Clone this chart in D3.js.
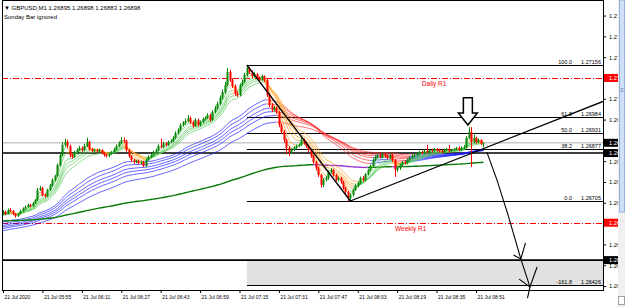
<!DOCTYPE html>
<html>
<head>
<meta charset="utf-8">
<script src="https://cdn.jsdelivr.net/npm/d3@7"></script>
<style>
  body { margin: 0; background: #fff; }
  svg text { font-family: "Liberation Sans", Arial, sans-serif; }
</style>
</head>
<body>
<svg id="svg1" width="625" height="307"></svg>
<script>
// GBPUSD M1, 21 Jul 2020. prices kept in points above 1.26000 (1 pt = 0.00001)
var startTime = new Date(2020, 6, 21, 5, 39);   // first bar on screen
var firstOpenPts = 662;

var closePts = [
  669,662,675,672,662,655,662,672,679,685,692,688,
  698,708,742,748,725,722,742,758,775,788,824,857,
  891,901,887,857,851,867,874,881,874,887,901,877,
  871,874,871,874,864,857,854,861,867,877,887,897,
  907,904,874,854,841,834,838,831,834,821,841,851,
  857,867,874,887,884,897,891,901,904,914,930,940,
  957,964,970,980,967,954,974,957,967,977,980,990,
  974,1000,1013,1027,1047,1066,1090,1133,1106,1086,1060,1056,
  1090,1100,1123,1146,1133,1119,1126,1113,1106,1119,1106,1056,
  1023,1007,1013,1000,957,934,907,881,867,874,881,887,
  891,907,897,887,874,854,834,814,791,758,775,781,
  801,808,791,775,781,768,748,735,715,725,742,755,
  765,781,775,794,808,821,841,851,857,851,861,854,
  848,857,841,808,814,824,834,831,841,848,854,857,
  861,867,864,871,867,874,871,877,874,871,867,874,
  877,871,874,877,881,874,881,884,914,934,901,914,
  901,907,895,898
];
var highPts = [
  675,673,680,682,675,665,666,676,684,690,697,696,
  702,712,748,755,752,730,746,762,780,792,830,862,
  900,912,908,892,862,872,880,888,886,895,915,905,
  880,878,878,879,877,867,860,865,871,882,892,903,
  917,915,908,878,857,845,842,842,838,838,845,856,
  861,872,879,893,912,902,900,906,910,920,936,946,
  962,970,978,990,985,972,980,978,972,982,986,996,
  995,1006,1020,1034,1055,1075,1100,1146,1140,1112,1092,1068,
  1095,1108,1130,1156,1150,1138,1132,1130,1118,1124,1122,1110,
  1062,1030,1020,1018,1004,962,940,912,886,880,886,892,
  896,914,912,902,892,878,858,838,818,795,780,788,
  806,814,812,795,786,785,772,752,738,730,746,760,
  770,786,788,798,812,826,846,856,862,862,866,865,
  858,862,861,845,820,828,838,840,846,853,860,863,
  866,872,872,876,891,878,878,881,881,878,876,878,
  881,891,878,881,885,886,886,890,920,950,950,925,
  918,912,910,898
];
var lowPts = [
  658,658,660,668,658,650,652,660,669,676,682,684,
  685,695,705,738,720,716,718,738,752,770,784,820,
  852,885,880,850,845,848,862,870,868,870,884,872,
  866,867,866,867,860,852,849,850,858,864,874,884,
  893,898,868,848,836,828,830,826,826,818,818,838,
  847,853,864,870,880,880,886,888,897,900,910,926,
  936,952,958,966,960,948,950,952,952,963,972,976,
  968,970,996,1008,1022,1042,1060,1085,1100,1080,1054,1050,
  1052,1085,1096,1118,1126,1113,1114,1108,1100,1102,1100,1050,
  1016,1000,1002,994,950,928,898,860,855,862,870,877,
  883,887,892,882,868,848,828,806,785,750,752,770,
  776,796,786,770,770,762,742,728,705,708,720,738,
  750,760,770,770,790,804,817,836,846,846,847,849,
  843,844,835,785,802,808,820,826,827,837,844,850,
  853,857,860,860,862,863,866,867,869,866,862,862,
  870,866,867,870,872,870,870,876,880,910,818,896,
  895,896,890,883
];

// moving average ribbons (EMA), values before the first bar given as seeds
var shortPeriods = [3, 5, 8, 10, 12, 15];
var shortSeedPts = [665, 664, 662, 660, 659, 657];
var longPeriods = [39, 45, 52, 58, 65, 78];
var longSeedPts = [634, 628, 622, 617, 612, 605];
var trendPeriod = 240, trendSeedPts = 639;

var priceTicks = [1.27320, 1.27251, 1.27182, 1.27044, 1.26975, 1.26837, 1.26768, 1.26699, 1.26561, 1.26492, 1.26423];
var timeTicks = ["05:39","05:55","06:11","06:27","06:43","06:59","07:15","07:31","07:47","08:03","08:19","08:35","08:51"];
var timeTickLabels = ["21 Jul 2020","21 Jul 05:55","21 Jul 06:11","21 Jul 06:27","21 Jul 06:43","21 Jul 06:59",
  "21 Jul 07:15","21 Jul 07:31","21 Jul 07:47","21 Jul 08:03","21 Jul 08:19","21 Jul 08:35","21 Jul 08:51"];

var fibLevels = ["100.0", "61.8", "50.0", "38.2", "0.0", "-161.8"];
var fibPrices = [1.27156, 1.26984, 1.26931, 1.26877, 1.26705, 1.26426];
var fibHighBar = 99, fibLowBar = 141;

var pivotNames = ["Daily R1", "Weekly R1"];
var pivotPrices = [1.27113, 1.26633];
var pivotTextBars = [175, 165.5];

var bidPrice = 1.26898;
var hLinePrices = [1.26864, 1.26509];
var zonePrices = [1.26509, 1.26426];
var trendAnchors = [[141, 1.26705], [196, 1.26882]];
var markerBar = 188.7, markerPrices = [1.27047, 1.26997, 1.26957];  // shaft top, head base, tip
var sketchLine = [[196.4, 1.26867], [200.5, 1.26775], [205, 1.26659], [210.2, 1.26513], [213.9, 1.26420], [212.9, 1.26383]];
var sketchHeads = [
  [[207.2, 1.26526], [210.2, 1.26513], [212.1, 1.26566]],
  [[209.5, 1.26446], [213.9, 1.26420], [216.8, 1.26486]]
];

// ---- drawing ----
var svg = d3.select('#svg1');
var plotL = 2, plotR = 603, plotT = 0, plotB = 290;

function toPrice(p) { return 1.26 + p / 1e5; }
function barTime(i) { return new Date(startTime.getTime() + i * 60000); }
function parseHM(s) { var a = s.split(':'); return new Date(2020, 6, 21, +a[0], +a[1]); }

var x = d3.scaleTime().domain([parseHM("05:39"), parseHM("08:51")]).range([3, 476]);
var y = d3.scaleLinear().domain([1.26705, 1.27156]).range([201, 65]);
function bx(i) { return x(barTime(i)); }

var n = closePts.length;
var bars = d3.range(n).map(function(i) {
  return {
    i: i,
    o: toPrice(i ? closePts[i - 1] : firstOpenPts),
    h: toPrice(highPts[i]),
    l: toPrice(lowPts[i]),
    c: toPrice(closePts[i])
  };
});

function ema(period, seedPts) {
  var k = 2 / (period + 1), prev = toPrice(seedPts);
  return bars.map(function(b) { prev = prev + k * (b.c - prev); return prev; });
}

svg.append('defs').append('clipPath').attr('id', 'plotclip')
  .append('rect').attr('x', plotL).attr('y', plotT).attr('width', plotR - plotL).attr('height', plotB - plotT);

var plot = svg.append('g').attr('clip-path', 'url(#plotclip)');

// grey zone under the fib
plot.append('rect')
  .attr('x', bx(fibHighBar)).attr('y', y(zonePrices[0]))
  .attr('width', plotR - bx(fibHighBar)).attr('height', y(zonePrices[1]) - y(zonePrices[0]))
  .attr('fill', '#e1e1e1');

// bid line
plot.append('line').attr('x1', plotL).attr('x2', plotR)
  .attr('y1', y(bidPrice)).attr('y2', y(bidPrice))
  .attr('stroke', '#c8c8c8').attr('stroke-width', 1.5);

// pivots
pivotPrices.forEach(function(p, k) {
  plot.append('line').attr('x1', plotL).attr('x2', plotR)
    .attr('y1', Math.round(y(p)) + 0.5).attr('y2', Math.round(y(p)) + 0.5)
    .attr('stroke', '#ff0000').attr('stroke-width', 1)
    .attr('stroke-dasharray', '6,2,1,2');
  plot.append('text').attr('x', bx(pivotTextBars[k])).attr('y', y(p) + 8)
    .attr('text-anchor', 'middle').attr('font-size', 6.5).attr('fill', '#ff0000')
    .text(pivotNames[k]);
});

// fibonacci levels
fibPrices.forEach(function(p, k) {
  var yy = Math.round(y(p)) + 0.5;
  plot.append('line').attr('x1', bx(fibHighBar)).attr('x2', plotR)
    .attr('y1', yy).attr('y2', yy).attr('stroke', '#000').attr('stroke-width', 1);
  plot.append('text').attr('x', 572).attr('y', yy - 2).attr('text-anchor', 'end')
    .attr('font-size', 5.5).text(fibLevels[k]);
  plot.append('text').attr('x', 601).attr('y', yy - 2).attr('text-anchor', 'end')
    .attr('font-size', 5.5).text(p.toFixed(5));
});

// horizontal lines
hLinePrices.forEach(function(p) {
  plot.append('line').attr('x1', plotL).attr('x2', plotR)
    .attr('y1', y(p)).attr('y2', y(p)).attr('stroke', '#000').attr('stroke-width', 1.6);
});

// moving averages, coloured by slope
var line = d3.line().x(function(d) { return bx(d[0]); }).y(function(d) { return y(d[1]); });
function drawMA(vals, upColor, downColor, width, opacity) {
  var runs = [], cur = null;
  for (var i = 1; i < vals.length; i++) {
    var col = vals[i] >= vals[i - 1] ? upColor : downColor;
    if (!cur || cur.color !== col) { cur = { color: col, pts: [[i - 1, vals[i - 1]]] }; runs.push(cur); }
    cur.pts.push([i, vals[i]]);
  }
  plot.append('g').selectAll('path').data(runs).enter().append('path')
    .attr('d', function(r) { return line(r.pts); })
    .attr('fill', 'none').attr('stroke', function(r) { return r.color; })
    .attr('stroke-width', width).attr('stroke-opacity', opacity);
}
longPeriods.forEach(function(p, k) { drawMA(ema(p, longSeedPts[k]), '#1a1aff', '#ff2a2a', 0.8, 0.85); });
drawMA(ema(trendPeriod, trendSeedPts), '#0a7a0a', '#9a33d0', 1.4, 1);
shortPeriods.forEach(function(p, k) { drawMA(ema(p, shortSeedPts[k]), '#5ccc5c', '#ffa020', 0.8, 0.9); });

// candles
var cg = plot.append('g');
cg.selectAll('line').data(bars).enter().append('line')
  .attr('x1', function(d) { return Math.round(bx(d.i)) + 0.5; })
  .attr('x2', function(d) { return Math.round(bx(d.i)) + 0.5; })
  .attr('y1', function(d) { return y(d.h); })
  .attr('y2', function(d) { return y(d.l); })
  .attr('stroke', function(d) { return d.c >= d.o ? '#0a8a0a' : '#ff0000'; })
  .attr('stroke-width', 1);
cg.selectAll('rect').data(bars).enter().append('rect')
  .attr('x', function(d) { return Math.round(bx(d.i)) - 0.5; })
  .attr('y', function(d) { return y(Math.max(d.o, d.c)); })
  .attr('width', 2)
  .attr('height', function(d) { return Math.max(1, y(Math.min(d.o, d.c)) - y(Math.max(d.o, d.c))); })
  .attr('fill', function(d) { return d.c >= d.o ? '#0a8a0a' : '#ff0000'; });

// fib diagonal and trend line (ray)
plot.append('line')
  .attr('x1', bx(fibHighBar)).attr('y1', y(fibPrices[0]))
  .attr('x2', bx(fibLowBar)).attr('y2', y(fibPrices[4]))
  .attr('stroke', '#000').attr('stroke-width', 1.3);
var ta = trendAnchors, slope = (y(ta[1][1]) - y(ta[0][1])) / (bx(ta[1][0]) - bx(ta[0][0]));
plot.append('line')
  .attr('x1', bx(ta[0][0])).attr('y1', y(ta[0][1]))
  .attr('x2', plotR).attr('y2', y(ta[0][1]) + slope * (plotR - bx(ta[0][0])))
  .attr('stroke', '#000').attr('stroke-width', 1.3);

// hollow down arrow over the spike
var ax = bx(markerBar), ys = markerPrices.map(y);
svg.append('path')
  .attr('d', 'M' + (ax - 4.5) + ',' + ys[0] + 'H' + (ax + 4.5) + 'V' + ys[1] + 'H' + (ax + 9.5) +
    'L' + ax + ',' + ys[2] + 'L' + (ax - 9.5) + ',' + ys[1] + 'H' + (ax - 4.5) + 'Z')
  .attr('fill', '#fff').attr('stroke', '#000').attr('stroke-width', 1.5);

// frame
svg.append('rect').attr('x', plotL + 0.5).attr('y', plotT + 0.5)
  .attr('width', plotR - plotL).attr('height', plotB - plotT)
  .attr('fill', 'none').attr('stroke', '#000').attr('stroke-width', 1);

// hand drawn arrow to the target
svg.append('path').attr('d', line(sketchLine))
  .attr('fill', 'none').attr('stroke', '#000').attr('stroke-width', 1.1);
sketchHeads.forEach(function(h) {
  svg.append('path').attr('d', line(h)).attr('fill', 'none').attr('stroke', '#000').attr('stroke-width', 1.1);
});

// time axis
var tAxis = svg.append('g').attr('transform', 'translate(0,' + plotB + ')')
  .call(d3.axisBottom(x).tickValues(timeTicks.map(parseHM))
    .tickFormat(function(d, i) { return timeTickLabels[i]; })
    .tickSize(3).tickSizeOuter(0));
tAxis.select('.domain').remove();
tAxis.selectAll('text').attr('text-anchor', 'start').attr('x', 1).attr('y', 5)
  .attr('font-size', 5).attr('font-family', '"Liberation Sans", Arial, sans-serif').attr('fill', '#000');

// price axis (labels run under the window scrollbar, as in the screenshot)
var pAxis = svg.append('g').attr('transform', 'translate(' + plotR + ',0)')
  .call(d3.axisRight(y).tickValues(priceTicks).tickFormat(d3.format('.5f')).tickSize(3).tickSizeOuter(0));
pAxis.select('.domain').remove();
pAxis.selectAll('text').attr('x', 6).attr('font-size', 5.8)
  .attr('font-family', '"Liberation Sans", Arial, sans-serif').attr('fill', '#000');

// price tags on the axis
var tags = [
  { p: pivotPrices[0], fill: '#ff0000' }, { p: pivotPrices[1], fill: '#ff0000' },
  { p: bidPrice, fill: '#000' }, { p: hLinePrices[0], fill: '#000' }, { p: hLinePrices[1], fill: '#000' }
];
var tg = svg.append('g').selectAll('g').data(tags).enter().append('g')
  .attr('transform', function(d) { return 'translate(' + (plotR + 1) + ',' + y(d.p) + ')'; });
tg.append('rect').attr('x', 0).attr('y', -4).attr('width', 16).attr('height', 8).attr('fill', function(d) { return d.fill; });
tg.append('text').attr('x', 5).attr('y', 2).attr('font-size', 5.8).attr('fill', '#fff')
  .text(function(d) { return d.p.toFixed(5); });

// header
svg.append('text').attr('x', 4).attr('y', 9.5).attr('font-size', 6)
  .text('\u25BC GBPUSD,M1  ' + [1.26895, toPrice(highPts[n - 1]), toPrice(lowPts[n - 1]), toPrice(closePts[n - 1])]
    .map(function(v) { return v.toFixed(5); }).join(' '));
svg.append('text').attr('x', 4).attr('y', 18.5).attr('font-size', 6).text('Sunday Bar ignored');

// window scrollbar on the right
svg.append('rect').attr('x', 618).attr('y', 0).attr('width', 7).attr('height', 307).attr('fill', '#f0f0f0');
svg.append('rect').attr('x', 619.5).attr('y', 0).attr('width', 5).attr('height', 212)
  .attr('fill', '#cfe0f6').attr('stroke', '#8fb0d8').attr('stroke-width', 1);
svg.append('text').attr('x', 622).attr('y', 92).attr('text-anchor', 'middle').attr('font-size', 6).attr('fill', '#5070a0').text('\u2261');
svg.append('rect').attr('x', 618.5).attr('y', 296.5).attr('width', 6).attr('height', 8)
  .attr('fill', '#fff').attr('stroke', '#a0a0a0');
</script>
</body>
</html>
